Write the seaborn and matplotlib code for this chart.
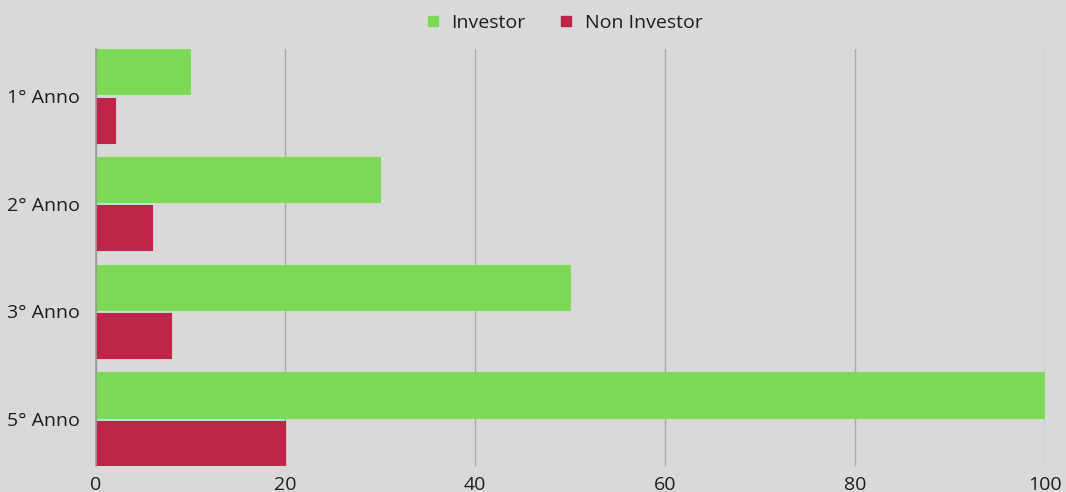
import pandas as pd
import seaborn as sns
import matplotlib.pyplot as plt
from matplotlib.lines import Line2D

# data
anni = ["1° Anno", "2° Anno", "3° Anno", "5° Anno"]
investor = [10, 30, 50, 100]
non_investor = [2, 6, 8, 20]
gruppi = ["Investor", "Non Investor"]
colori = ["#7ED957", "#BE2649"]
x_ticks = [0, 20, 40, 60, 80, 100]

df = pd.DataFrame({
    "anno": anni * 2,
    "valore": investor + non_investor,
    "gruppo": [gruppi[0]] * len(anni) + [gruppi[1]] * len(anni),
})

sns.set_theme(style="white")
plt.rcParams["font.family"] = ["Open Sans", "DejaVu Sans"]
bg = "#D9D9D9"

fig = plt.figure(figsize=(10.66, 4.92), dpi=100, facecolor=bg)
ax = fig.add_axes([0.0896, 0.0528, 0.8907, 0.8476])
ax.set_facecolor(bg)

sns.barplot(data=df, y="anno", x="valore", hue="gruppo", orient="h",
            palette=colori, width=0.9, gap=0.07, legend=False, ax=ax,
            saturation=1)

# soft rounded look on the bar corners
for p in ax.patches:
    p.set_edgecolor(p.get_facecolor())
    p.set_linewidth(0.8)
    p.set_joinstyle("round")

# bars touch the top and bottom of the plot area
tops = [p.get_y() for p in ax.patches]
bottoms = [p.get_y() + p.get_height() for p in ax.patches]
ax.set_ylim(max(bottoms), min(tops))

ax.set_xlim(0, 100)
ax.set_xticks(x_ticks)
ax.xaxis.grid(True, color="#ABABAB", linewidth=1)
ax.set_axisbelow(True)
for s in ["top", "right", "bottom"]:
    ax.spines[s].set_visible(False)
ax.spines["left"].set_color("#9A9A9A")
ax.spines["left"].set_linewidth(1.2)
ax.tick_params(axis="both", length=0, labelsize=14, colors="#1E1E1E")
ax.tick_params(axis="x", pad=7)
ax.tick_params(axis="y", pad=11)
ax.set_xlabel("")
ax.set_ylabel("")

handles = [Line2D([], [], marker="s", linestyle="", markersize=7.5,
                  markerfacecolor=c, markeredgecolor=c) for c in colori]
fig.legend(handles, gruppi, loc="center", bbox_to_anchor=(0.527, 0.953),
           ncol=2, frameon=False, fontsize=14, handletextpad=0.35,
           handlelength=1.2, columnspacing=1.5, labelcolor="#1E1E1E")

fig.savefig("out.png", dpi=100, facecolor=bg)
